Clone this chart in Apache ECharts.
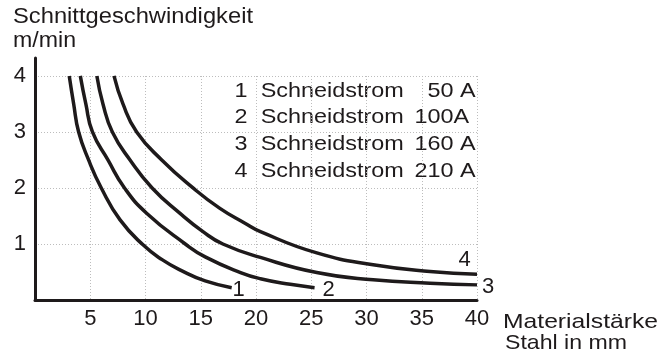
<!DOCTYPE html>
<html><head><meta charset="utf-8">
<script src="https://cdn.jsdelivr.net/npm/echarts@6/dist/echarts.min.js"></script>
<style>html,body{margin:0;padding:0;background:#fff}#c{width:663px;height:356px}</style>
</head><body><div id="c"></div>
<script>
// ---- data ----
const curveNames = ['1', '2', '3', '4'];
const legendNumbers = ['1', '2', '3', '4'];
const legendTexts = ['Schneidstrom', 'Schneidstrom', 'Schneidstrom', 'Schneidstrom'];
const legendValues = ['50 A', '100A', '160 A', '210 A'];
const xTicks = [5, 10, 15, 20, 25, 30, 35, 40];
const yTicks = [1, 2, 3, 4];
const yTitle = ['Schnittgeschwindigkeit', 'm/min'];
const xTitle = ['Materialstärke', 'Stahl in mm'];

const c1X = [3.1, 3.5, 3.95, 4.85, 6.0, 7.7, 9.8, 11.5, 13.3, 15.4, 17.8];
const c1Y = [4.0, 3.5, 3.0, 2.5, 2.0, 1.43, 0.98, 0.72, 0.52, 0.34, 0.22];
const c2X = [4.1, 4.6, 5.2, 6.6, 8.1, 10.1, 13.6, 15.4, 18.6, 20.4, 23.1, 25.3];
const c2Y = [4.0, 3.5, 3.0, 2.5, 2.0, 1.55, 1.0, 0.77, 0.49, 0.38, 0.28, 0.22];
const c3X = [5.6, 6.15, 7.0, 8.6, 10.6, 13.1, 15.2, 17.0, 20.4, 25.5, 30.6, 35.75, 40];
const c3Y = [4.0, 3.5, 3.0, 2.5, 2.0, 1.55, 1.22, 1.0, 0.76, 0.49, 0.36, 0.30, 0.27];
const c4X = [7.15, 7.96, 9.2, 11.47, 14.3, 16.7, 19.0, 20.4, 25.5, 30.6, 35.75, 40];
const c4Y = [4.0, 3.5, 3.0, 2.5, 2.0, 1.64, 1.37, 1.22, 0.84, 0.63, 0.51, 0.46];

// ---- layout / style ----
const INK = '#1e1a1b';
const FONT = "'Liberation Sans', Arial, Helvetica, sans-serif";
const curvesX = [c1X, c2X, c3X, c4X];
const curvesY = [c1Y, c2Y, c3Y, c4Y];
const endLabelOffsets = [[7, 2.5], [14, 2.5], [11, 2.5], [-12.5, -14.5]];

const cv = document.createElement('canvas').getContext('2d');
function measure(text, size) { cv.font = size + 'px ' + FONT; return cv.measureText(text).width; }
function fitText(text, size, left, midY, width, align) {
  const sx = width / measure(text, size);
  return { type: 'text', x: left, y: midY, scaleX: sx, silent: true,
    style: { text: text, font: size + 'px ' + FONT, fill: INK, align: align || 'left', verticalAlign: 'middle' } };
}

const graphics = [];
graphics.push(fitText(yTitle[0], 22, 13, 17, 240));
graphics.push(fitText(yTitle[1], 22, 13, 40.5, 63));
graphics.push(fitText(xTitle[0], 21, 503, 322, 155));
graphics.push(fitText(xTitle[1], 21, 505, 343.5, 122));
const legSX = 143 / measure(legendTexts[0], 21);
const valueLeft = [427.5, 414.5, 414.5, 414.5];
for (let i = 0; i < legendNumbers.length; i++) {
  const y = 91 + i * 26.65;
  const mk = (t, x) => ({ type: 'text', x: x, y: y, scaleX: legSX, silent: true,
    style: { text: t, font: '21px ' + FONT, fill: INK, align: 'left', verticalAlign: 'middle' } });
  graphics.push(mk(legendNumbers[i], 234.5));
  graphics.push(mk(legendTexts[i], 260.7));
  graphics.push(mk(legendValues[i], valueLeft[i]));
}

const series = curvesX.map((xs, k) => {
  const ys = curvesY[k];
  const data = xs.map((x, i) => [x, ys[i]]);
  const last = data[data.length - 1];
  return {
    type: 'line', name: curveNames[k], xAxisIndex: 0, yAxisIndex: 0,
    data: data, smooth: 0.5, showSymbol: false, symbol: 'none',
    lineStyle: { color: INK, width: 3.5, cap: 'butt', join: 'round' },
    z: 5,
    markPoint: {
      symbol: 'circle', symbolSize: 1, itemStyle: { color: 'rgba(0,0,0,0)' },
      data: [{ coord: last, label: { show: true, position: 'inside', formatter: curveNames[k],
        offset: endLabelOffsets[k], color: INK, fontSize: 22, fontFamily: FONT } }]
    }
  };
});

const gridLine = { show: true, lineStyle: { color: '#bdbdbd', width: 1, type: [1, 2] } };
const chart = echarts.init(document.getElementById('c'), null, { renderer: 'canvas' });
chart.setOption({
  animation: false,
  backgroundColor: '#ffffff',
  grid: [
    { left: 35, right: 186, top: 58, bottom: 56, containLabel: false },
    { left: 35, right: 186, top: 76, bottom: 56, containLabel: false }
  ],
  xAxis: [
    { type: 'value', gridIndex: 0, min: 0, max: 40, interval: 5,
      axisLine: { show: true, lineStyle: { color: INK, width: 3 } },
      axisTick: { show: false }, splitLine: { show: false },
      axisLabel: { color: INK, fontSize: 22, fontFamily: FONT, margin: 8,
        formatter: v => xTicks.includes(v) ? String(v) : '' } },
    { type: 'value', gridIndex: 1, min: 0, max: 40, interval: 5,
      axisLine: { show: false }, axisTick: { show: false }, axisLabel: { show: false },
      splitLine: gridLine }
  ],
  yAxis: [
    { type: 'value', gridIndex: 0, min: 0, max: 4.32, interval: 1,
      axisLine: { show: true, lineStyle: { color: INK, width: 3 } },
      axisTick: { show: false }, splitLine: { show: false },
      axisLabel: { color: INK, fontSize: 22, fontFamily: FONT, margin: 9, padding: [7, 0, 0, 0],
        showMaxLabel: false,
        formatter: v => yTicks.includes(v) ? String(v) : '' } },
    { type: 'value', gridIndex: 1, min: 0, max: 4, interval: 1,
      axisLine: { show: false }, axisTick: { show: false }, axisLabel: { show: false },
      splitLine: gridLine }
  ],
  series: series,
  graphic: graphics
});
</script></body></html>
